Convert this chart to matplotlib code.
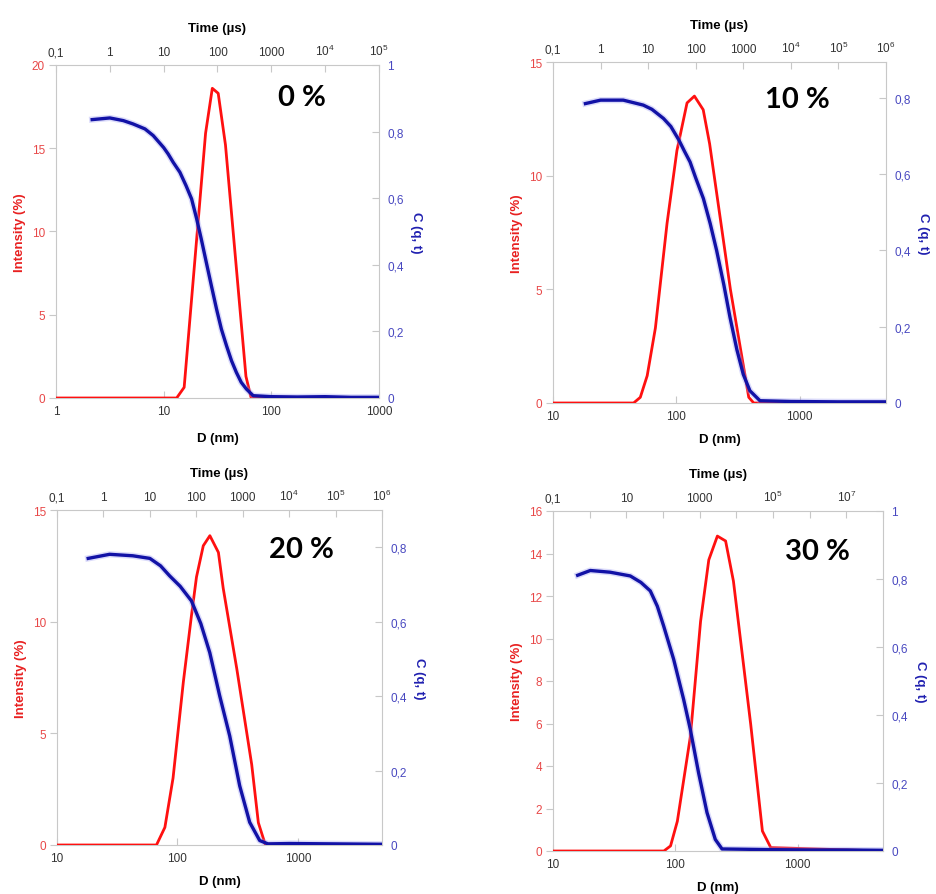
import math
import matplotlib
matplotlib.use('Agg')
import matplotlib.pyplot as plt
from matplotlib.ticker import FixedLocator, FixedFormatter, NullLocator

plt.rcParams['font.family'] = ['Liberation Sans', 'DejaVu Sans']
plt.rcParams['mathtext.default'] = 'regular'

# concentration of each panel
panel_labels = ['0 %', '10 %', '20 %', '30 %']

# intensity size distributions: D (nm) -> intensity (%)
d_0 = [1, 13.2, 15.5, 24.5, 28.3, 32.1, 37.5, 58.1, 64.6, 1000]
int_0 = [0, 0, 0.64, 15.9, 18.6, 18.3, 15.2, 1.3, 0.06, 0]
d_10 = [10, 45, 51, 58, 67.6, 84, 101, 122, 140, 165, 186, 274, 386, 424, 5000]
int_10 = [0, 0, 0.25, 1.2, 3.3, 7.9, 11.1, 13.2, 13.5, 12.9, 11.4, 5.0, 0.25, 0, 0]
d_20 = [10, 67, 78.7, 92, 112, 131, 144, 164, 186, 219, 240, 311, 414, 470, 535, 5000]
int_20 = [0, 0, 0.79, 3.0, 7.3, 10.3, 12.0, 13.4, 13.85, 13.1, 11.5, 7.9, 3.6, 1.0, 0.04, 0]
d_30 = [10, 80.7, 91.5, 104, 133, 161, 188, 221, 258, 299, 414, 516, 604, 5000]
int_30 = [0, 0, 0.24, 1.4, 5.4, 10.8, 13.7, 14.82, 14.59, 12.7, 5.96, 0.94, 0.16, 0]

# correlation functions: time (us) -> C(q, t)
t_0 = [0.47, 1, 1.78, 2.7, 4.5, 6.4, 10, 12.1, 15, 20, 26, 33, 41, 50, 62, 77, 96, 118, 147,
       182, 224, 276, 344, 460, 1000, 3000, 1e4, 3e4, 1e5]
c_0 = [0.836, 0.841, 0.833, 0.823, 0.808, 0.788, 0.752, 0.733, 0.708, 0.678, 0.638, 0.598,
       0.538, 0.477, 0.407, 0.337, 0.267, 0.207, 0.157, 0.112, 0.077, 0.047, 0.027, 0.007,
       0.004, 0.003, 0.004, 0.002, 0.002]
t_10 = [0.48, 1, 3.0, 7.9, 12, 21, 30, 44, 58, 76, 100, 145, 202, 275, 390, 525, 733, 1000,
        1380, 2240, 1e4, 1e5, 1e6]
c_10 = [0.785, 0.794, 0.794, 0.781, 0.77, 0.746, 0.725, 0.69, 0.66, 0.632, 0.59, 0.536, 0.47,
        0.40, 0.31, 0.225, 0.14, 0.075, 0.032, 0.006, 0.004, 0.003, 0.003]
t_20 = [0.47, 1.36, 4.3, 10, 17, 26.7, 45, 78.5, 125, 195, 319, 525, 861, 1413, 2320, 3510,
        1e4, 1e5, 1e6]
c_20 = [0.770, 0.781, 0.777, 0.77, 0.75, 0.723, 0.695, 0.656, 0.595, 0.517, 0.401, 0.293,
        0.159, 0.061, 0.012, 0.003, 0.004, 0.003, 0.002]
t_30 = [0.47, 1.04, 3.6, 12.8, 25, 45, 70, 104, 195, 365, 555, 934, 1585, 2670, 4070, 1e5,
        1e6, 1e7, 1e8]
c_30 = [0.811, 0.825, 0.82, 0.809, 0.79, 0.765, 0.72, 0.662, 0.564, 0.446, 0.358, 0.23, 0.113,
        0.034, 0.006, 0.004, 0.003, 0.003, 0.002]

d_series = [d_0, d_10, d_20, d_30]
int_series = [int_0, int_10, int_20, int_30]
t_series = [t_0, t_10, t_20, t_30]
c_series = [c_0, c_10, c_20, c_30]

# axis ranges and ticks per panel
d_limits = [(1, 1000), (10, 5000), (10, 5000), (10, 5000)]
d_ticks = [[1, 10, 100, 1000], [10, 100, 1000], [10, 100, 1000], [10, 100, 1000]]
t_limits = [(0.1, 1e5), (0.1, 1e6), (0.1, 1e6), (0.1, 1e8)]
t_label_every = [1, 1, 1, 2]
int_limits = [20, 15, 15, 16]
int_ticks = [[0, 5, 10, 15, 20], [0, 5, 10, 15], [0, 5, 10, 15], [0, 2, 4, 6, 8, 10, 12, 14, 16]]
c_limits = [1.0, 0.894, 0.90, 1.0]
c_ticks = [[0, 0.2, 0.4, 0.6, 0.8, 1], [0, 0.2, 0.4, 0.6, 0.8], [0, 0.2, 0.4, 0.6, 0.8],
           [0, 0.2, 0.4, 0.6, 0.8, 1]]

W, H = 937, 895
# axes boxes in pixels: left, top, right, bottom
boxes = [(56, 66, 379, 399), (553, 63, 886, 404), (57, 511, 382, 846), (553, 512, 883, 852)]
label_xy = [(302, 98), (797, 100), (301, 550), (817, 552)]
dlabel_off = [34, 30, 30, 30]

RED = '#ff1010'
BLUE = '#1212a6'
GRID = '#c8c8c8'


def num(v):
    if v == int(v):
        return str(int(v))
    return ('%g' % v).replace('.', ',')


def time_label(v):
    if v < 1:
        return num(v)
    if v <= 1000:
        return str(int(v))
    return '10$^{%d}$' % round(math.log10(v))


fig = plt.figure(figsize=(W / 100, H / 100), dpi=100)

for k in range(4):
    l, t, r, b = boxes[k]
    rect = [l / W, 1 - b / H, (r - l) / W, (b - t) / H]
    ax = fig.add_axes(rect)
    ax2 = fig.add_axes(rect, frameon=False)
    ax2.patch.set_visible(False)

    # intensity vs D (bottom / left)
    ax.plot(d_series[k], int_series[k], color=RED, lw=2.0, zorder=3)
    ax.set_xscale('log')
    ax.set_xlim(*d_limits[k])
    ax.set_ylim(0, int_limits[k])
    ax.xaxis.set_major_locator(FixedLocator(d_ticks[k]))
    ax.xaxis.set_major_formatter(FixedFormatter([num(v) for v in d_ticks[k]]))
    ax.xaxis.set_minor_locator(NullLocator())
    ax.yaxis.set_major_locator(FixedLocator(int_ticks[k]))
    ax.yaxis.set_major_formatter(FixedFormatter([num(v) for v in int_ticks[k]]))
    ax.tick_params(axis='x', direction='in', length=5, color=GRID, labelsize=8.5,
                   labelcolor='#333333', pad=5)
    ax.tick_params(axis='y', direction='out', length=5, color=GRID, labelsize=8.5,
                   labelcolor='#e84848', pad=3)
    for s in ax.spines.values():
        s.set_color(GRID)
    ax.set_xlabel('D (nm)', fontsize=9.5, fontweight='bold')
    ax.xaxis.set_label_coords(0.5, -dlabel_off[k] / (b - t))
    ax.set_ylabel('Intensity (%)', fontsize=9.5, fontweight='bold', color='#e82020')
    ax.yaxis.set_label_coords(-30 / (r - l), 0.5)

    # correlation vs time (top / right)
    ax2.plot(t_series[k], c_series[k], color='#9a9af2', lw=4.5, alpha=0.35, zorder=2)
    ax2.plot(t_series[k], c_series[k], color=BLUE, lw=2.4, zorder=3)
    ax2.set_xscale('log')
    ax2.set_xlim(*t_limits[k])
    ax2.set_ylim(0, c_limits[k])
    lo = round(math.log10(t_limits[k][0]))
    hi = round(math.log10(t_limits[k][1]))
    decades = [10.0 ** e for e in range(lo, hi + 1)]
    tlabels = [time_label(v) if i % t_label_every[k] == 0 else '' for i, v in enumerate(decades)]
    ax2.xaxis.set_major_locator(FixedLocator(decades))
    ax2.xaxis.set_major_formatter(FixedFormatter(tlabels))
    ax2.xaxis.set_minor_locator(NullLocator())
    ax2.xaxis.tick_top()
    ax2.xaxis.set_label_position('top')
    ax2.yaxis.tick_right()
    ax2.yaxis.set_label_position('right')
    ax2.yaxis.set_major_locator(FixedLocator(c_ticks[k]))
    ax2.yaxis.set_major_formatter(FixedFormatter([num(v) for v in c_ticks[k]]))
    ax2.tick_params(axis='x', direction='in', length=5, color=GRID, labelsize=8.5,
                    labelcolor='#333333', pad=5)
    ax2.tick_params(axis='y', direction='in', length=5, color=GRID, labelsize=8.5,
                    labelcolor='#4848c0', pad=6)
    ax2.set_xlabel('Time (\u00b5s)', fontsize=9.5, fontweight='bold')
    ax2.xaxis.set_label_coords(0.5, 1 + 34 / (b - t))
    ax2.set_ylabel('C (q, t)', fontsize=9.5, fontweight='bold', color='#2020b0', rotation=-90,
                   va='center')
    ax2.yaxis.set_label_coords(1 + 37 / (r - l), 0.5)

    lx, ly = label_xy[k]
    fig.text(lx / W, 1 - ly / H, panel_labels[k], fontsize=21, fontweight='bold',
             family='Lato', ha='center', va='center')

fig.savefig('out.png', dpi=100)
